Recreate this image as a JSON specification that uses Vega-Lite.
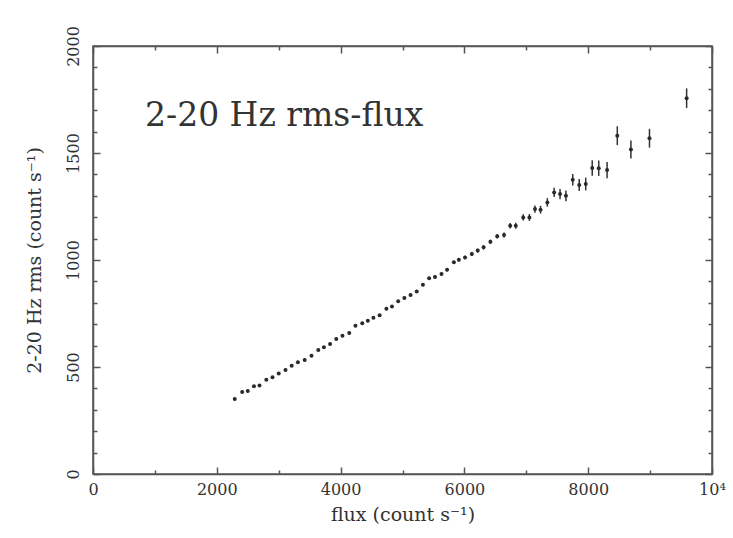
{
  "$schema": "https://vega.github.io/schema/vega-lite/v6.json",
  "autosize": "none",
  "width": 619,
  "height": 428,
  "padding": {"left": 93, "top": 46, "right": 21, "bottom": 64},
  "background": "white",
  "config": {
    "view": {"stroke": "#555", "strokeWidth": 1.5},
    "font": "DejaVu Serif",
    "axis": {
      "domainColor": "#555", "domainWidth": 1.5,
      "tickColor": "#555", "tickWidth": 1.5,
      "labelFont": "DejaVu Serif", "labelFontSize": 16, "labelColor": "#333",
      "titleFont": "DejaVu Serif", "titleFontSize": 19, "titleFontWeight": "normal", "titleColor": "#333",
      "grid": false, "labelOverlap": false, "labelFlush": false
    }
  },
  "datasets": {
    "pts": [
      {"flux": 2290, "rms": 350, "err": 6},
      {"flux": 2410, "rms": 383, "err": 6},
      {"flux": 2500, "rms": 388, "err": 6},
      {"flux": 2600, "rms": 410, "err": 6},
      {"flux": 2690, "rms": 413, "err": 6},
      {"flux": 2800, "rms": 441, "err": 6},
      {"flux": 2900, "rms": 452, "err": 6},
      {"flux": 3000, "rms": 470, "err": 6},
      {"flux": 3110, "rms": 486, "err": 6},
      {"flux": 3210, "rms": 506, "err": 6},
      {"flux": 3310, "rms": 522, "err": 6},
      {"flux": 3420, "rms": 533, "err": 6},
      {"flux": 3530, "rms": 553, "err": 6},
      {"flux": 3640, "rms": 580, "err": 6},
      {"flux": 3730, "rms": 592, "err": 6},
      {"flux": 3830, "rms": 607, "err": 6},
      {"flux": 3930, "rms": 631, "err": 6},
      {"flux": 4030, "rms": 646, "err": 6},
      {"flux": 4140, "rms": 659, "err": 6},
      {"flux": 4240, "rms": 693, "err": 6},
      {"flux": 4350, "rms": 705, "err": 6},
      {"flux": 4440, "rms": 716, "err": 6},
      {"flux": 4530, "rms": 730, "err": 6},
      {"flux": 4630, "rms": 742, "err": 6},
      {"flux": 4740, "rms": 772, "err": 6},
      {"flux": 4830, "rms": 783, "err": 6},
      {"flux": 4930, "rms": 807, "err": 6},
      {"flux": 5030, "rms": 823, "err": 6},
      {"flux": 5130, "rms": 836, "err": 6},
      {"flux": 5230, "rms": 853, "err": 6},
      {"flux": 5330, "rms": 884, "err": 7},
      {"flux": 5430, "rms": 915, "err": 7},
      {"flux": 5525, "rms": 921, "err": 7},
      {"flux": 5630, "rms": 935, "err": 7},
      {"flux": 5720, "rms": 955, "err": 7},
      {"flux": 5830, "rms": 989, "err": 8},
      {"flux": 5910, "rms": 1001, "err": 8},
      {"flux": 6010, "rms": 1012, "err": 8},
      {"flux": 6120, "rms": 1028, "err": 9},
      {"flux": 6215, "rms": 1044, "err": 9},
      {"flux": 6310, "rms": 1059, "err": 10},
      {"flux": 6420, "rms": 1085, "err": 10},
      {"flux": 6530, "rms": 1111, "err": 11},
      {"flux": 6640, "rms": 1117, "err": 12},
      {"flux": 6740, "rms": 1160, "err": 13},
      {"flux": 6830, "rms": 1160, "err": 14},
      {"flux": 6950, "rms": 1199, "err": 15},
      {"flux": 7050, "rms": 1199, "err": 16},
      {"flux": 7140, "rms": 1238, "err": 17},
      {"flux": 7230, "rms": 1235, "err": 18},
      {"flux": 7340, "rms": 1269, "err": 20},
      {"flux": 7450, "rms": 1316, "err": 22},
      {"flux": 7545, "rms": 1308, "err": 24},
      {"flux": 7640, "rms": 1300, "err": 25},
      {"flux": 7750, "rms": 1375, "err": 27},
      {"flux": 7855, "rms": 1350, "err": 28},
      {"flux": 7960, "rms": 1355, "err": 30},
      {"flux": 8065, "rms": 1430, "err": 36},
      {"flux": 8170, "rms": 1429, "err": 36},
      {"flux": 8305, "rms": 1420, "err": 38},
      {"flux": 8470, "rms": 1581, "err": 44},
      {"flux": 8690, "rms": 1516, "err": 42},
      {"flux": 8990, "rms": 1569, "err": 44},
      {"flux": 9590, "rms": 1756, "err": 46}
    ],
    "note": [
      {"flux": 840, "rms": 1673, "label": "2-20 Hz rms-flux"}
    ]
  },
  "resolve": {"axis": {"x": "independent", "y": "independent"}},
  "layer": [
    {
      "data": {"name": "pts"},
      "mark": {"type": "errorbar", "color": "#333", "thickness": 1.5},
      "encoding": {
        "x": {"field": "flux", "type": "quantitative", "scale": {"domain": [0, 10000], "nice": false, "zero": false}, "axis": null},
        "y": {"field": "rms", "type": "quantitative", "scale": {"domain": [0, 2000], "nice": false, "zero": false}, "axis": null},
        "yError": {"field": "err"}
      }
    },
    {
      "data": {"name": "pts"},
      "mark": {"type": "point", "filled": true, "color": "#2a2a2a", "opacity": 1, "size": 16},
      "encoding": {
        "x": {"field": "flux", "type": "quantitative",
          "scale": {"domain": [0, 10000], "nice": false, "zero": false},
          "axis": {
            "orient": "bottom",
            "title": "flux (count s⁻¹)",
            "values": [0, 1000, 2000, 3000, 4000, 5000, 6000, 7000, 8000, 9000, 10000],
            "labelExpr": "datum.value % 2000 === 0 ? (datum.value === 10000 ? '10⁴' : '' + datum.value) : ''",
            "tickSize": {"condition": {"test": "datum.value % 2000 === 0", "value": -7}, "value": -4},
            "labelPadding": 14,
            "titlePadding": 5
          }
        },
        "y": {"field": "rms", "type": "quantitative",
          "scale": {"domain": [0, 2000], "nice": false, "zero": false},
          "axis": {
            "orient": "left",
            "title": "2-20 Hz rms (count s⁻¹)",
            "values": [0,100,200,300,400,500,600,700,800,900,1000,1100,1200,1300,1400,1500,1600,1700,1800,1900,2000],
            "labelExpr": "datum.value % 500 === 0 ? '' + datum.value : ''",
            "tickSize": {"condition": {"test": "datum.value % 500 === 0", "value": -7}, "value": -4},
            "labelAngle": 270,
            "labelAlign": "center",
            "labelBaseline": "middle",
            "labelPadding": 27,
            "titlePadding": 18
          }
        }
      }
    },
    {
      "data": {"name": "note"},
      "mark": {"type": "text", "align": "left", "baseline": "middle", "font": "DejaVu Serif", "fontSize": 33, "color": "#333"},
      "encoding": {
        "x": {"field": "flux", "type": "quantitative",
          "axis": {
            "orient": "top", "title": null, "labels": false,
            "values": [0, 1000, 2000, 3000, 4000, 5000, 6000, 7000, 8000, 9000, 10000],
            "tickSize": {"condition": {"test": "datum.value % 2000 === 0", "value": -7}, "value": -4}
          }
        },
        "y": {"field": "rms", "type": "quantitative",
          "axis": {
            "orient": "right", "title": null, "labels": false,
            "values": [0,100,200,300,400,500,600,700,800,900,1000,1100,1200,1300,1400,1500,1600,1700,1800,1900,2000],
            "tickSize": {"condition": {"test": "datum.value % 500 === 0", "value": -7}, "value": -4}
          }
        },
        "text": {"field": "label"}
      }
    }
  ]
}
